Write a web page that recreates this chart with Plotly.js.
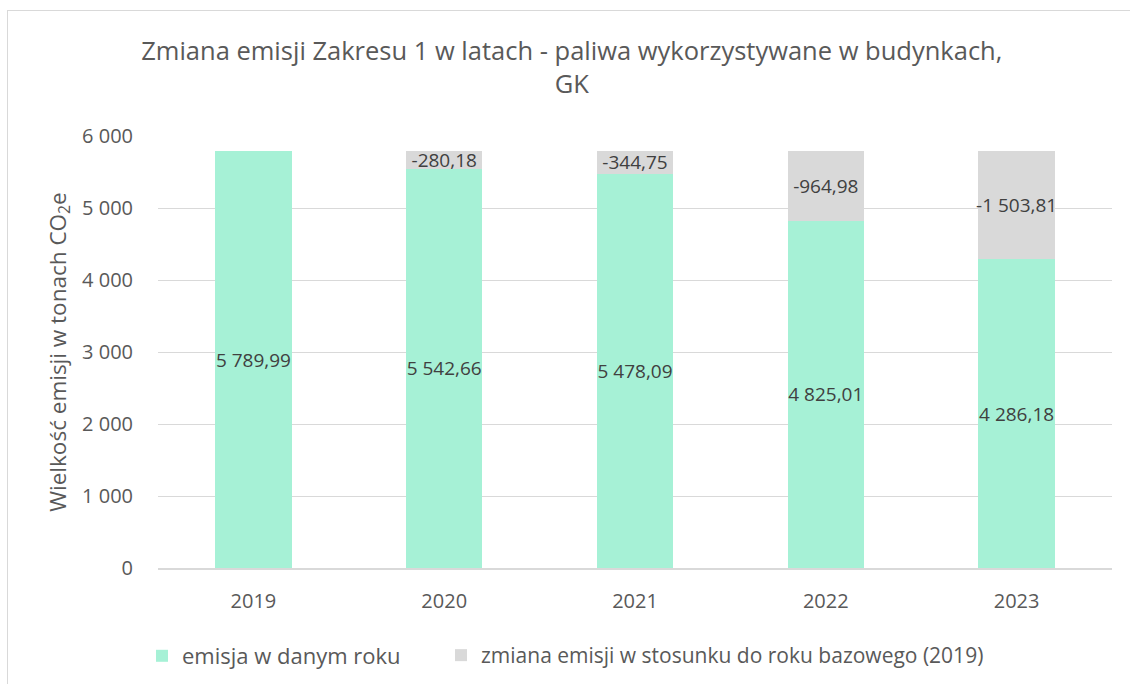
<!DOCTYPE html>
<html>
<head>
<meta charset="utf-8">
<script src="https://cdn.plot.ly/plotly-3.0.1.min.js"></script>
<style>
  html, body { margin: 0; padding: 0; background: #ffffff; }
  #wrap { position: relative; width: 1130px; height: 684px; overflow: hidden; }
  #frame { position: absolute; left: 7px; top: 10px; width: 1130px; height: 690px;
           border-left: 1px solid #d9d9d9; border-top: 1px solid #d9d9d9; pointer-events: none; }
  #chart { position: absolute; left: 0; top: 0; width: 1130px; height: 684px; }
</style>
</head>
<body>
<div id="wrap">
  <div id="chart"></div>
  <div id="frame"></div>
</div>
<script>
// Data
const years = ['2019', '2020', '2021', '2022', '2023'];
const emission = [5789.99, 5542.66, 5478.09, 4825.01, 4286.18];
// change relative to base year (labels shown on grey segments)
const changeYears = ['2020', '2021', '2022', '2023'];
const changeLabels = [-280.18, -344.75, -964.98, -1503.81];
// visible height of grey segments (they reach the 2019 level)
const changeHeights = [247.33, 311.90, 964.98, 1503.81];
const yTicks = [0, 1000, 2000, 3000, 4000, 5000, 6000];

const FONT = 'Open Sans, sans-serif';

const traces = [
  {
    type: 'bar',
    name: 'emisja w danym roku',
    x: years,
    y: emission,
    marker: { color: '#a6f1d6' },
    texttemplate: '%{y:,.2f}',
    textposition: 'inside',
    insidetextanchor: 'middle',
    textangle: 0,
    constraintext: 'none',
    textfont: { family: FONT, size: 19, color: '#404040' },
    hoverinfo: 'skip',
    legend: 'legend'
  },
  {
    type: 'bar',
    name: 'zmiana emisji w stosunku do roku bazowego (2019)',
    x: changeYears,
    y: changeHeights,
    customdata: changeLabels,
    marker: { color: '#d9d9d9' },
    texttemplate: '%{customdata:,.2f}',
    textposition: 'inside',
    insidetextanchor: 'middle',
    textangle: 0,
    constraintext: 'none',
    textfont: { family: FONT, size: 19, color: '#404040' },
    hoverinfo: 'skip',
    legend: 'legend2'
  }
];

const legendCommon = {
  orientation: 'h',
  xref: 'container',
  xanchor: 'left',
  yref: 'container',
  y: 1 - 635 / 684,
  yanchor: 'top',
  bgcolor: 'rgba(0,0,0,0)',
  font: { family: FONT, size: 22, color: '#595959' },
  itemclick: false,
  itemdoubleclick: false
};

const layout = {
  width: 1130,
  height: 684,
  margin: { l: 158, r: 18, t: 136, b: 116 },
  paper_bgcolor: '#ffffff',
  plot_bgcolor: '#ffffff',
  separators: ', ',
  barmode: 'stack',
  bargap: 0.6,
  font: { family: FONT, color: '#595959', size: 20 },
  title: {
    text: 'Zmiana emisji Zakresu 1 w latach - paliwa wykorzystywane w budynkach,<br>GK',
    font: { family: FONT, size: 25.5, color: '#595959' },
    x: 0.506,
    xanchor: 'center',
    xref: 'container',
    y: 0.913,
    yanchor: 'top',
    yref: 'container'
  },
  xaxis: {
    type: 'category',
    showgrid: false,
    showline: true,
    linecolor: '#d9d9d9',
    linewidth: 1.5,
    ticks: '',
    ticklabelstandoff: 14,
    tickfont: { family: FONT, size: 20, color: '#595959' },
    fixedrange: true
  },
  yaxis: {
    range: [0, 6000],
    tickvals: yTicks,
    tickformat: ',d',
    showgrid: true,
    gridcolor: '#d9d9d9',
    gridwidth: 1,
    zeroline: false,
    showline: false,
    ticks: '',
    ticklabelstandoff: 24,
    tickfont: { family: FONT, size: 20, color: '#595959' },
    title: {
      text: 'Wielkość emisji w tonach CO<sub>2</sub>e',
      font: { family: FONT, size: 22.5, color: '#595959' },
      standoff: 9
    },
    fixedrange: true
  },
  showlegend: true,
  legend: Object.assign({}, legendCommon, { x: 142 / 1130 }),
  legend2: Object.assign({}, legendCommon, {
    x: 441 / 1130,
    font: { family: FONT, size: 21, color: '#595959' }
  })
};

Plotly.newPlot('chart', traces, layout, { displayModeBar: false, staticPlot: true });
</script>
</body>
</html>
